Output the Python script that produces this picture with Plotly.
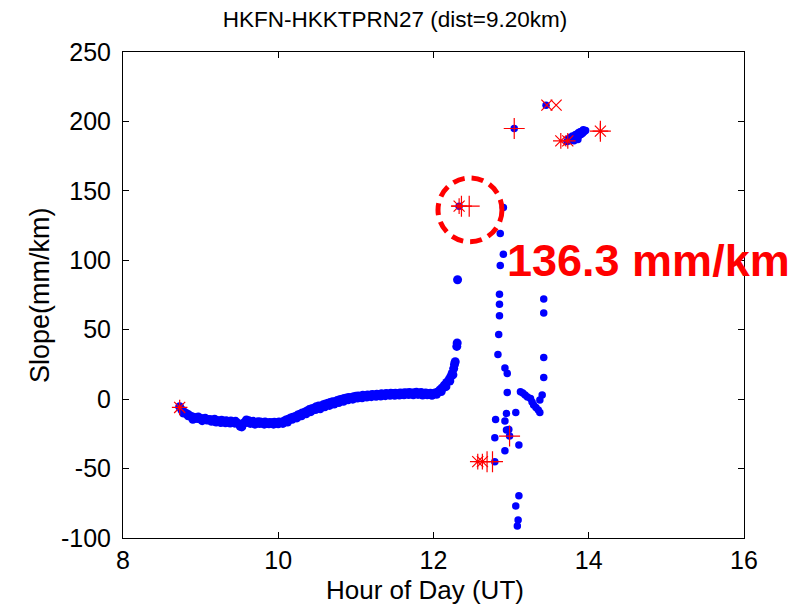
import plotly.graph_objects as go

# ---------------- data ----------------
# main slope series (blue dots): hour of day (UT) and slope (mm/km)
curve_x = [8.73, 8.76, 8.79, 8.82, 8.85, 8.88, 8.91, 8.94, 8.97, 9.00, 9.03, 9.06, 9.09, 9.12,
           9.15, 9.18, 9.21, 9.24, 9.27, 9.30, 9.33, 9.36, 9.39, 9.42, 9.45, 9.48, 9.51, 9.53,
           9.56, 9.59, 9.62, 9.65, 9.68, 9.71, 9.74, 9.77, 9.80, 9.83, 9.86, 9.89, 9.92, 9.95,
           9.98, 10.01, 10.04, 10.07, 10.10, 10.13, 10.16, 10.19, 10.22, 10.25, 10.28, 10.31,
           10.34, 10.37, 10.40, 10.43, 10.46, 10.49, 10.52, 10.55, 10.58, 10.61, 10.64, 10.67,
           10.70, 10.73, 10.76, 10.79, 10.82, 10.85, 10.88, 10.91, 10.94, 10.97, 11.00, 11.03,
           11.06, 11.09, 11.12, 11.15, 11.18, 11.21, 11.24, 11.27, 11.30, 11.33, 11.36, 11.39,
           11.42, 11.45, 11.48, 11.51, 11.54, 11.57, 11.60, 11.63, 11.66, 11.69, 11.72, 11.75,
           11.78, 11.81, 11.84, 11.87, 11.90, 11.93, 11.96, 11.99, 12.02, 12.05, 12.08, 12.11,
           12.14, 12.17, 12.20, 12.22, 12.24, 12.26, 12.27, 12.28, 12.30, 12.305, 12.31]
curve_y = [-5.5, -8.0, -9.5, -10.5, -11.5, -12.5, -13.0, -13.5, -12.8, -14.0, -14.2, -13.8, -14.8, -14.6,
           -15.2, -14.5, -15.4, -15.8, -15.2, -16.0, -15.5, -16.2, -15.8, -16.5, -16.0, -17.5, -19.5, -20.0,
           -17.0, -15.0, -15.5, -16.5, -16.0, -17.0, -16.3, -16.5, -17.0, -16.5, -17.2, -16.8, -17.0, -16.6,
           -17.0, -16.5, -16.8, -16.0, -15.0, -14.5, -13.5, -13.0, -12.5, -11.5, -10.8, -10.0,
           -9.5, -8.5, -7.5, -7.0, -6.5, -5.5, -5.0, -5.5, -4.0, -3.5, -3.0, -2.5,
           -1.8, -2.0, -1.0, -0.5, 0.0, 0.5, 0.8, 1.2, 1.0, 1.8, 2.0, 2.2,
           2.0, 2.8, 2.5, 3.0, 2.8, 3.3, 3.0, 3.6, 3.4, 3.8, 3.5, 4.0,
           3.7, 4.2, 4.0, 4.3, 3.8, 4.4, 4.2, 4.6, 4.4, 4.8, 4.3, 4.6,
           4.9, 4.4, 4.7, 4.2, 4.5, 4.0, 4.3, 3.8, 4.5, 5.0, 6.5, 8.0,
           10.0, 12.0, 14.0, 16.0, 18.5, 22.0, 25.0, 27.0, 38.0, 40.5, 86.0]

# second pass of epochs along the same curve (slightly noisier, gives the band its thickness)
curve2_x = [8.78, 8.84, 8.90, 8.96, 9.02, 9.08, 9.14, 9.20, 9.26, 9.32, 9.38, 9.44, 9.50, 9.58,
            9.64, 9.70, 9.76, 9.82, 9.88, 9.94, 10.00, 10.06, 10.12, 10.18, 10.24, 10.30, 10.36,
            10.42, 10.48, 10.54, 10.60, 10.66, 10.72, 10.78, 10.84, 10.90, 10.96, 11.02, 11.08,
            11.14, 11.20, 11.26, 11.32, 11.38, 11.44, 11.50, 11.56, 11.62, 11.68, 11.74, 11.80,
            11.86, 11.92, 11.98, 12.04, 12.10, 12.16, 12.21, 12.25]
curve2_y = [-10.0, -12.0, -14.5, -14.0, -15.5, -15.0, -16.0, -16.5, -16.8, -17.0, -17.2, -17.3, -18.0, -16.8,
            -17.5, -18.0, -17.6, -18.0, -17.8, -18.0, -17.8, -17.5, -16.5, -14.5, -13.5, -12.0, -10.5,
            -9.0, -7.5, -7.0, -5.5, -4.5, -3.5, -2.5, -1.5, -0.5, 0.0, 0.8, 1.0,
            1.5, 1.8, 2.0, 2.3, 2.5, 2.8, 2.8, 3.0, 3.2, 3.3, 3.2, 3.4,
            3.0, 3.2, 2.8, 3.5, 5.5, 9.0, 13.0, 17.5]

# scattered epochs after the jump (blue dots)
scatter_x = [12.33, 12.90, 12.86, 12.90, 12.86, 12.85, 12.85, 12.85, 12.84, 12.83, 12.92, 12.95,
             12.95, 12.94, 12.80, 12.92, 12.94, 12.97, 12.98, 12.79, 13.10, 12.92, 12.79, 13.06,
             13.10, 13.06, 13.09, 13.08,
             13.12, 13.15, 13.18, 13.21, 13.25, 13.27, 13.29, 13.32, 13.35, 13.37, 13.40, 13.37,
             13.42, 13.42, 13.42, 13.42,
             13.45, 13.04,
             13.72, 13.75, 13.78, 13.80, 13.82, 13.84, 13.86, 13.88, 13.90, 13.92, 13.94, 13.96,
             13.76, 13.79, 13.83, 13.85, 13.87, 13.89, 13.91, 13.93, 13.74, 13.81, 13.86]
scatter_y = [139.0, 138.0, 119.3, 104.4, 96.2, 75.6, 68.4, 60.0, 46.6, 32.2, 22.5, 18.5,
             4.8, -10.3, -14.6, -15.8, -22.3, -21.8, -26.6, -27.8, -33.0, -37.2, -45.0, -9.6,
             -69.6, -77.0, -87.0, -91.4,
             5.3, 4.5, 2.9, 1.5, 0.5, -2.0, -4.3, -6.0, -7.9, -9.6, 2.9, -0.7,
             72.2, 62.0, 30.0, 15.6,
             211.7, 194.9,
             185.5, 186.0, 186.5, 187.5, 188.0, 188.5, 189.0, 190.0, 190.5, 191.5, 192.5, 193.5,
             188.5, 189.5, 190.5, 191.0, 192.0, 192.5, 193.0, 194.0, 187.5, 186.0, 187.0]

# red marker epochs (cycle-slip style markers)
star_x = [8.73, 12.33, 12.57, 12.63, 13.64, 13.73, 14.15]
star_y = [-6.0, 139.0, -45.0, -45.0, 186.0, 186.0, 193.0]
plus_x = [12.36, 12.46, 13.04, 12.98, 12.69, 12.76, 14.15]
plus_y = [139.0, 139.0, 194.9, -26.6, -45.0, -45.0, 193.0]
cross_x = [13.46, 13.58]
cross_y = [211.7, 211.7]

# highlighted value
highlight_x = 12.47
highlight_y = 136.3
highlight_label = "136.3 mm/km"

x_tick_vals = [8, 10, 12, 14, 16]
x_tick_text = ["8", "10", "12", "14", "16"]
y_tick_vals = [-100, -50, 0, 50, 100, 150, 200, 250]
y_tick_text = ["-100", "-50", "0", "50", "100", "150", "200", "250"]

title_text = "HKFN-HKKTPRN27 (dist=9.20km)"
x_title = "Hour of Day (UT)"
y_title = "Slope(mm/km)"

# ---------------- figure ----------------
FONT = "Liberation Sans, Arial, sans-serif"
W, H = 791, 601          # page body adds an 8px margin
ML, MR, MT, MB = 115, 55, 44, 71
PW, PH = W - ML - MR, H - MT - MB
fig = go.Figure()

fig.add_trace(go.Scatter(x=curve_x + curve2_x, y=curve_y + curve2_y, mode="markers",
                         marker=dict(color="#0000FF", size=9, line=dict(width=0)),
                         showlegend=False, hoverinfo="skip"))
fig.add_trace(go.Scatter(x=scatter_x, y=scatter_y, mode="markers",
                         marker=dict(color="#0000FF", size=7.5, line=dict(width=0)),
                         showlegend=False, hoverinfo="skip"))
fig.add_trace(go.Scatter(x=star_x, y=star_y, mode="markers",
                         marker=dict(symbol="asterisk-open", size=13, color="#FF0000",
                                     line=dict(color="#FF0000", width=1.2)),
                         showlegend=False))
fig.add_trace(go.Scatter(x=plus_x, y=plus_y, mode="markers",
                         marker=dict(symbol="cross-thin-open", size=15, color="#FF0000",
                                     line=dict(color="#FF0000", width=1.2)),
                         showlegend=False))
fig.add_trace(go.Scatter(x=cross_x, y=cross_y, mode="markers",
                         marker=dict(symbol="x-thin-open", size=11, color="#FF0000",
                                     line=dict(color="#FF0000", width=1.2)),
                         showlegend=False))

# dashed highlight circle (radius ~32 px)
rx = 0.412
ry = 23.0
fig.add_shape(type="circle", xref="x", yref="y",
              x0=highlight_x - rx, x1=highlight_x + rx,
              y0=highlight_y - ry, y1=highlight_y + ry,
              line=dict(color="#FF0000", width=5, dash="12px,7px"))

fig.add_annotation(x=12.92, y=99.5, xref="x", yref="y", xanchor="left", yanchor="middle",
                   text="<b>" + highlight_label + "</b>", showarrow=False,
                   font=dict(family=FONT, size=45, color="#FF0000"))

# axis titles placed as annotations for exact positioning
fig.add_annotation(x=(425 - 123) / PW, y=-(590 - 538) / PH, xref="paper", yref="paper",
                   xanchor="center", yanchor="middle", text=x_title, showarrow=False,
                   font=dict(family=FONT, size=26, color="black"))
fig.add_annotation(x=(40 - 123) / PW, y=0.5, xref="paper", yref="paper",
                   xanchor="center", yanchor="middle", text=y_title, showarrow=False,
                   textangle=-90, font=dict(family=FONT, size=27, color="black"))

axis_common = dict(showline=True, linecolor="black", linewidth=1, mirror="ticks",
                   ticks="inside", ticklen=6, tickcolor="black", tickwidth=1,
                   showgrid=False, zeroline=False, automargin=False,
                   tickfont=dict(family=FONT, size=25, color="black"))

fig.update_layout(
    width=W, height=H,
    margin=dict(l=ML, r=MR, t=MT, b=MB),
    paper_bgcolor="white", plot_bgcolor="white",
    title=dict(text=title_text, x=(395 - 8) / W, xanchor="center",
               y=1 - 11 / H, yanchor="middle",
               font=dict(family=FONT, size=22.5, color="black")),
    xaxis=dict(range=[8, 16], tickvals=x_tick_vals, ticktext=x_tick_text, **axis_common),
    yaxis=dict(range=[-100, 250], tickvals=y_tick_vals, ticktext=y_tick_text,
               ticklabelstandoff=6, **axis_common),
)

fig.write_html("out.html")
